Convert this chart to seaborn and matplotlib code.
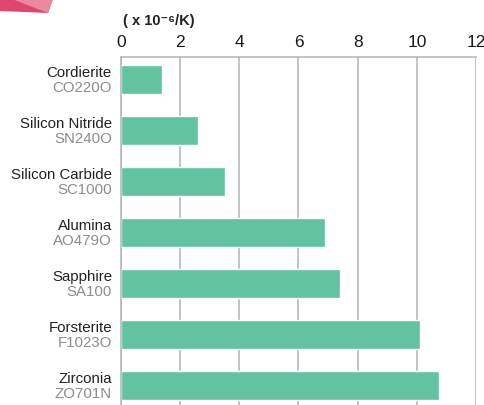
import matplotlib
matplotlib.use("Agg")
import matplotlib.pyplot as plt
import seaborn as sns
import pandas as pd
from matplotlib.patches import Polygon
from matplotlib import transforms

names = ["Cordierite", "Silicon Nitride", "Silicon Carbide", "Alumina",
         "Sapphire", "Forsterite", "Zirconia"]
codes = ["CO220O", "SN240O", "SC1000", "AO479O", "SA100", "F1023O", "ZO701N"]
values = [1.4, 2.6, 3.5, 6.9, 7.4, 10.1, 10.75]
xticks = [0, 2, 4, 6, 8, 10, 12]
unit_label = "( x 10\u207b\u2076/K)"

sns.set_theme(style="white")
plt.rcParams["font.family"] = ["Liberation Sans", "DejaVu Sans"]

df = pd.DataFrame({"name": names, "value": values})

fig = plt.figure(figsize=(4.85, 4.06), dpi=100)
ax = fig.add_axes([121 / 485, 0.0, (476 - 121) / 485, 1 - 58 / 406])

sns.barplot(data=df, x="value", y="name", orient="h", color="#61c3a0",
            saturation=1, width=0.57, ax=ax)

ax.set_xlim(0, 12)
ax.set_ylim(6.38, -0.44)
ax.set_xticks(xticks)
ax.set_xticklabels([str(t) for t in xticks])
ax.xaxis.tick_top()
ax.tick_params(axis="x", length=0, pad=6, labelsize=12.5, labelcolor="#1a1a1a")
ax.set_xlabel("")
ax.set_ylabel("")
ax.set_yticks(range(len(names)))
ax.set_yticklabels([])
ax.tick_params(axis="y", length=0)

ax.grid(axis="x", color="#b3b3b3", linewidth=1.1)
ax.grid(axis="y", visible=False)
ax.set_axisbelow(True)
for s in ["bottom", "right"]:
    ax.spines[s].set_visible(False)
for s in ["top", "left"]:
    ax.spines[s].set_color("#b3b3b3")
    ax.spines[s].set_linewidth(1.1)

trans = transforms.blended_transform_factory(ax.transAxes, ax.transData)
off = transforms.ScaledTranslation(-9 / 100, 0, fig.dpi_scale_trans)
for i, (n, c) in enumerate(zip(names, codes)):
    ax.text(0, i - 0.15, n, transform=trans + off, ha="right", va="center",
            fontsize=10.8, color="#222222")
    ax.text(0, i + 0.15, c, transform=trans + off, ha="right", va="center",
            fontsize=10.8, color="#8c8c8c")

fig.text(123 / 485, 1 - 21 / 406, unit_label, ha="left", va="center",
         fontsize=10.5, color="#222222", fontweight="bold",
         family=["Liberation Sans", "DejaVu Sans"])

# decorative pink shape at top-left
W, H = 485, 406
dark = Polygon([(0 / W, 1), (53 / W, 1), (48 / W, 1 - 14 / H), (0, 1 - 12 / H)],
               closed=True, transform=fig.transFigure, facecolor="#e0456e",
               edgecolor="none")
light = Polygon([(12 / W, 1), (53 / W, 1), (48 / W, 1 - 14 / H)],
                closed=True, transform=fig.transFigure, facecolor="#e98a9c",
                edgecolor="none")
fig.patches.extend([dark, light])

fig.savefig("out.png", dpi=100)
